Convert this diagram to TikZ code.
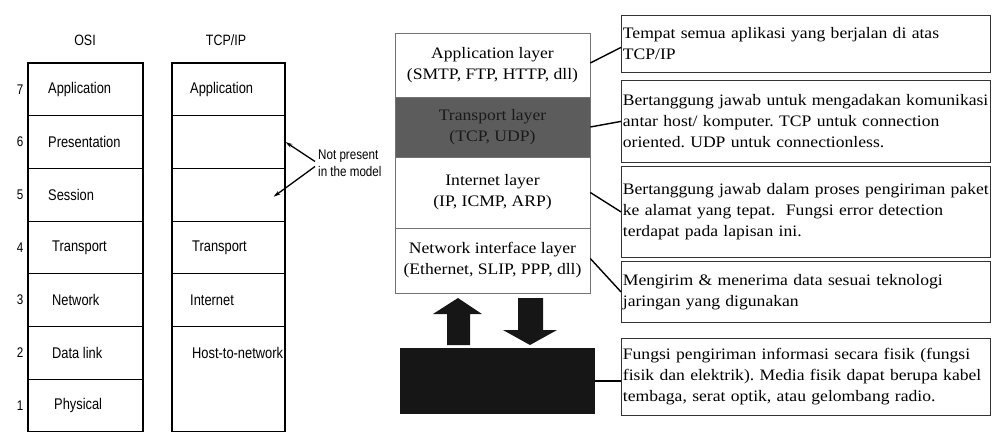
\documentclass[tikz,border=0pt]{standalone}
\usepackage{fontspec}
\setmainfont{Liberation Serif}
\newfontfamily\descfont[FakeStretch=1.1]{Liberation Serif}
\newfontfamily\layfont[FakeStretch=1.1]{Liberation Serif}
\newfontfamily\osifont[FakeStretch=0.83]{Liberation Sans}
\usetikzlibrary{arrows.meta}
\hyphenpenalty=10000
\exhyphenpenalty=10000
\frenchspacing
\definecolor{trgray}{HTML}{5C5C5C}
\definecolor{trtext}{HTML}{1A1A1A}
\definecolor{physfill}{HTML}{161616}
\tikzset{
  cell/.style={draw=black, line width=1.1pt, inner sep=0pt},
  osilab/.style={anchor=west, inner sep=0pt, font=\osifont\fontsize{15.5}{17}\selectfont},
  numlab/.style={inner sep=0pt, font=\osifont\fontsize{14}{16}\selectfont},
  headlab/.style={inner sep=0pt, font=\osifont\fontsize{15}{17}\selectfont},
  npar/.style={line width=1.3pt, -{Stealth[length=7pt,width=4pt]}},
  stackbox/.style={draw=black!55, line width=0.6pt, minimum width=195pt, inner sep=0pt, align=center,
    font=\layfont\fontsize{16}{21}\selectfont},
  descbox/.style={draw=black!80, line width=0.8pt, anchor=north west, minimum width=369pt,
    text width=366pt, inner xsep=1.5pt, inner ysep=0pt, align=left,
    font=\descfont\fontsize{16}{21}\selectfont},
  conn/.style={line width=1.4pt},
  blockarrow/.style={fill=physfill, draw=none}
}
\begin{document}
\begin{tikzpicture}[x=1pt,y=-1pt]
\useasboundingbox (0,0) rectangle (996,434);
% headings
\node[headlab] (hosi) at (85,40) {OSI};
\node[headlab] (htcp) at (226,40) {TCP/IP};
% OSI cells
\node[cell, minimum width=115pt, minimum height=52.7pt] (o7) at (85.5,89.35) {};
\node[cell, minimum width=115pt, minimum height=52.7pt] (o6) at (85.5,142.05) {};
\node[cell, minimum width=115pt, minimum height=52.7pt] (o5) at (85.5,194.75) {};
\node[cell, minimum width=115pt, minimum height=52.7pt] (o4) at (85.5,247.45) {};
\node[cell, minimum width=115pt, minimum height=52.7pt] (o3) at (85.5,300.15) {};
\node[cell, minimum width=115pt, minimum height=52.7pt] (o2) at (85.5,352.85) {};
\node[cell, minimum width=115pt, minimum height=52.7pt] (o1) at (85.5,405.55) {};
\node[osilab] (lo7) at (48,89.35) {Application};
\node[osilab] (lo6) at (48,142.05) {Presentation};
\node[osilab] (lo5) at (48,194.75) {Session};
\node[osilab] (lo4) at (52,247.45) {Transport};
\node[osilab] (lo3) at (52,300.15) {Network};
\node[osilab] (lo2) at (52,352.85) {Data link};
\node[osilab] (lo1) at (54,405.55) {Physical};
% numbers
\node[numlab] (n7) at (20,89.35) {7};
\node[numlab] (n6) at (20,142.05) {6};
\node[numlab] (n5) at (20,194.75) {5};
\node[numlab] (n4) at (20,247.45) {4};
\node[numlab] (n3) at (20,300.15) {3};
\node[numlab] (n2) at (20,352.85) {2};
\node[numlab] (n1) at (20,405.55) {1};
% TCP/IP cells
\node[cell, minimum width=113pt, minimum height=52.7pt] (t7) at (228.5,89.35) {};
\node[cell, minimum width=113pt, minimum height=52.7pt] (t6) at (228.5,142.05) {};
\node[cell, minimum width=113pt, minimum height=52.7pt] (t5) at (228.5,194.75) {};
\node[cell, minimum width=113pt, minimum height=52.7pt] (t4) at (228.5,247.45) {};
\node[cell, minimum width=113pt, minimum height=52.7pt] (t3) at (228.5,300.15) {};
\node[cell, minimum width=113pt, minimum height=105.4pt] (t2) at (228.5,379.2) {};
\node[osilab] (lt7) at (190,89.35) {Application};
\node[osilab] (lt4) at (192,247.45) {Transport};
\node[osilab] (lt3) at (190,300.15) {Internet};
\node[osilab] (lt2) at (192,352.85) {Host-to-network};
% not present
\node[anchor=west, inner xsep=3pt, inner ysep=0pt, align=left,
  font=\osifont\fontsize{14}{17}\selectfont] (np) at (315,163.5) {Not present\\in the model};
\draw[npar] ([yshift=2pt]np.west) -- (t6.east);
\draw[npar] ([yshift=-3pt]np.west) -- ([xshift=-12pt,yshift=-2pt]t5.east);
% right stack
\node[stackbox, minimum height=64pt] (app) at (492.5,65) {Application layer\\(SMTP, FTP, HTTP, dll)};
\node[stackbox, minimum height=60pt, fill=trgray, text=trtext] (tra) at (492.5,127) {Transport layer\\(TCP, UDP)};
\node[stackbox, minimum height=71pt] (inte) at (492.5,192.5) {Internet layer\\(IP, ICMP, ARP)};
\node[stackbox, minimum height=65pt] (net) at (492.5,260.5) {Network interface layer\\(Ethernet, SLIP, PPP, dll)};
% block arrows
\path[blockarrow] (458,298) -- (482,314) -- (470,314) -- (470,345) -- (447,345) -- (447,314) -- (433,314) -- cycle;
\path[blockarrow] (518,298) -- (543,298) -- (543,330) -- (557,330) -- (530,345) -- (503,330) -- (518,330) -- cycle;
% physical box
\node[draw=none, fill=physfill, minimum width=195pt, minimum height=66pt, inner sep=0pt] (phys) at (497.5,381) {};
% description boxes
\node[descbox, minimum height=57pt] (d1) at (621,15) {Tempat semua aplikasi yang berjalan di atas\\TCP/IP};
\node[descbox, minimum height=82pt] (d2) at (621,80) {Bertanggung jawab untuk mengadakan komunikasi\\antar host/ komputer. TCP untuk connection\\oriented. UDP untuk connectionless.};
\node[descbox, minimum height=91pt] (d3) at (621,166) {Bertanggung jawab dalam proses pengiriman paket\\ke alamat yang tepat.\ \ Fungsi error detection\\terdapat pada lapisan ini.};
\node[descbox, minimum height=61pt] (d4) at (621,261) {Mengirim \& menerima data sesuai teknologi\\jaringan yang digunakan};
\node[descbox, minimum height=77pt] (d5) at (621,338) {Fungsi pengiriman informasi secara fisik (fungsi\\fisik dan elektrik). Media fisik dapat berupa kabel\\tembaga, serat optik, atau gelombang radio.};
% connectors
\draw[conn] ([yshift=2pt]app.east) -- ([yshift=-3.5pt]d1.west);
\draw[conn] (tra.east) -- (d2.west);
\draw[conn] (inte.east) -- (d3.west);
\draw[conn] ([yshift=2pt]net.east) -- (d4.west);
\draw[conn] (phys.east) -- (phys.east -| d5.west);
\end{tikzpicture}
\end{document}
